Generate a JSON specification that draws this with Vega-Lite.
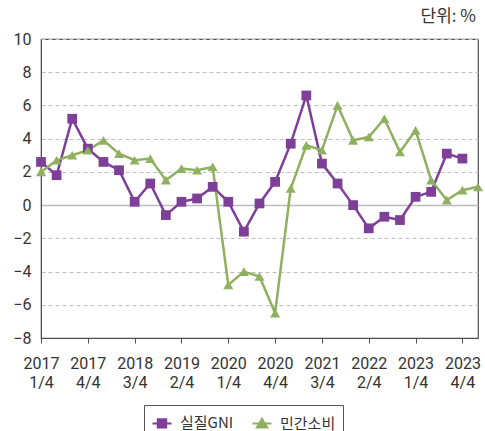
{
  "$schema": "https://vega.github.io/schema/vega-lite/v6.json",
  "width": 437,
  "height": 299,
  "autosize": "none",
  "padding": {"left": 41, "top": 39, "right": 7, "bottom": 93},
  "background": "white",
  "config": {
    "view": {"stroke": "#4d4d4d", "strokeWidth": 1.2},
    "font": "Roboto"
  },
  "title": {
    "text": "단위: %",
    "anchor": "end",
    "orient": "top",
    "offset": 0,
    "dy": 12,
    "dx": -7,
    "baseline": "bottom",
    "fontSize": 17,
    "font": "Noto Sans CJK KR",
    "fontWeight": "normal",
    "color": "#333333"
  },
  "data": {
    "values": [
      {"q": "2017 1/4", "series": "실질GNI", "v": 2.6},
      {"q": "2017 2/4", "series": "실질GNI", "v": 1.8},
      {"q": "2017 3/4", "series": "실질GNI", "v": 5.2},
      {"q": "2017 4/4", "series": "실질GNI", "v": 3.4},
      {"q": "2018 1/4", "series": "실질GNI", "v": 2.6},
      {"q": "2018 2/4", "series": "실질GNI", "v": 2.1},
      {"q": "2018 3/4", "series": "실질GNI", "v": 0.2},
      {"q": "2018 4/4", "series": "실질GNI", "v": 1.3},
      {"q": "2019 1/4", "series": "실질GNI", "v": -0.6},
      {"q": "2019 2/4", "series": "실질GNI", "v": 0.2},
      {"q": "2019 3/4", "series": "실질GNI", "v": 0.4},
      {"q": "2019 4/4", "series": "실질GNI", "v": 1.1},
      {"q": "2020 1/4", "series": "실질GNI", "v": 0.2},
      {"q": "2020 2/4", "series": "실질GNI", "v": -1.6},
      {"q": "2020 3/4", "series": "실질GNI", "v": 0.1},
      {"q": "2020 4/4", "series": "실질GNI", "v": 1.4},
      {"q": "2021 1/4", "series": "실질GNI", "v": 3.7},
      {"q": "2021 2/4", "series": "실질GNI", "v": 6.6},
      {"q": "2021 3/4", "series": "실질GNI", "v": 2.5},
      {"q": "2021 4/4", "series": "실질GNI", "v": 1.3},
      {"q": "2022 1/4", "series": "실질GNI", "v": 0.0},
      {"q": "2022 2/4", "series": "실질GNI", "v": -1.4},
      {"q": "2022 3/4", "series": "실질GNI", "v": -0.7},
      {"q": "2022 4/4", "series": "실질GNI", "v": -0.9},
      {"q": "2023 1/4", "series": "실질GNI", "v": 0.5},
      {"q": "2023 2/4", "series": "실질GNI", "v": 0.8},
      {"q": "2023 3/4", "series": "실질GNI", "v": 3.1},
      {"q": "2023 4/4", "series": "실질GNI", "v": 2.8},
      {"q": "2017 1/4", "series": "민간소비", "v": 2.0},
      {"q": "2017 2/4", "series": "민간소비", "v": 2.7},
      {"q": "2017 3/4", "series": "민간소비", "v": 3.0},
      {"q": "2017 4/4", "series": "민간소비", "v": 3.3},
      {"q": "2018 1/4", "series": "민간소비", "v": 3.9},
      {"q": "2018 2/4", "series": "민간소비", "v": 3.1},
      {"q": "2018 3/4", "series": "민간소비", "v": 2.7},
      {"q": "2018 4/4", "series": "민간소비", "v": 2.8},
      {"q": "2019 1/4", "series": "민간소비", "v": 1.5},
      {"q": "2019 2/4", "series": "민간소비", "v": 2.2},
      {"q": "2019 3/4", "series": "민간소비", "v": 2.1},
      {"q": "2019 4/4", "series": "민간소비", "v": 2.3},
      {"q": "2020 1/4", "series": "민간소비", "v": -4.8},
      {"q": "2020 2/4", "series": "민간소비", "v": -4.0},
      {"q": "2020 3/4", "series": "민간소비", "v": -4.3},
      {"q": "2020 4/4", "series": "민간소비", "v": -6.5},
      {"q": "2021 1/4", "series": "민간소비", "v": 1.0},
      {"q": "2021 2/4", "series": "민간소비", "v": 3.6},
      {"q": "2021 3/4", "series": "민간소비", "v": 3.3},
      {"q": "2021 4/4", "series": "민간소비", "v": 6.0},
      {"q": "2022 1/4", "series": "민간소비", "v": 3.9},
      {"q": "2022 2/4", "series": "민간소비", "v": 4.1},
      {"q": "2022 3/4", "series": "민간소비", "v": 5.2},
      {"q": "2022 4/4", "series": "민간소비", "v": 3.2},
      {"q": "2023 1/4", "series": "민간소비", "v": 4.5},
      {"q": "2023 2/4", "series": "민간소비", "v": 1.5},
      {"q": "2023 3/4", "series": "민간소비", "v": 0.3},
      {"q": "2023 4/4", "series": "민간소비", "v": 0.9},
      {"q": "2024 1/4", "series": "민간소비", "v": 1.1}
    ]
  },
  "encoding": {
    "x": {
      "field": "q",
      "type": "ordinal",
      "scale": {"type": "point", "padding": 0},
      "axis": {
        "title": null,
        "values": ["2017 1/4", "2017 4/4", "2018 3/4", "2019 2/4", "2020 1/4", "2020 4/4", "2021 3/4", "2022 2/4", "2023 1/4", "2023 4/4"],
        "labelExpr": "split(datum.label, ' ')",
        "labelAngle": 0,
        "labelFontSize": 16,
        "labelColor": "#333333",
        "labelLineHeight": 19,
        "labelPadding": 12,
        "tickSize": 5,
        "tickColor": "#4d4d4d",
        "domainColor": "#4d4d4d",
        "grid": false
      }
    },
    "y": {
      "field": "v",
      "type": "quantitative",
      "scale": {"domain": [-8, 10], "nice": false, "zero": false},
      "axis": {
        "title": null,
        "values": [-8, -6, -4, -2, 0, 2, 4, 6, 8, 10],
        "labelFontSize": 16,
        "labelColor": "#333333",
        "labelPadding": 10,
        "ticks": false,
        "domainColor": "#4d4d4d",
        "grid": true,
        "gridColor": {"condition": {"test": "datum.value === 0", "value": "#bbbbbb"}, "value": "#bdbdbd"},
        "gridDash": {"condition": {"test": "datum.value === 0", "value": []}, "value": [4, 3]},
        "gridWidth": {"condition": {"test": "datum.value === 0", "value": 1.5}, "value": 1}
      }
    },
    "color": {
      "field": "series",
      "type": "nominal",
      "scale": {"domain": ["실질GNI", "민간소비"], "range": ["#7d3f98", "#8fb05f"]},
      "legend": {
        "title": null,
        "orient": "none",
        "legendX": 103,
        "legendY": 366,
        "direction": "horizontal",
        "strokeColor": "#555555",
        "padding": 7,
        "labelFont": "Noto Sans CJK KR",
        "labelFontSize": 15,
        "labelColor": "#333333",
        "labelLimit": 200,
        "labelOffset": 7,
        "symbolSize": 400,
        "symbolStrokeWidth": 2,
        "columnPadding": 14,
        "encode": {
          "symbols": {
            "update": {
              "shape": {"signal": "datum.value === '실질GNI' ? 'M-0.95,0H0.95M-0.42,-0.42H0.42V0.42H-0.42Z' : 'M-0.95,0H0.95M0,-0.48L0.52,0.4H-0.52Z'"},
              "fill": {"signal": "scale('color', datum.value)"},
              "stroke": {"signal": "scale('color', datum.value)"},
              "strokeWidth": {"value": 2},
              "opacity": {"value": 1}
            }
          }
        }
      }
    }
  },
  "layer": [
    {"mark": {"type": "line", "strokeWidth": 2.5}},
    {
      "transform": [{"filter": "datum.series === '실질GNI'"}],
      "mark": {"type": "point", "filled": true, "opacity": 1, "size": 95, "shape": "square"}
    },
    {
      "transform": [{"filter": "datum.series === '민간소비'"}],
      "mark": {"type": "point", "filled": true, "opacity": 1, "size": 100, "shape": "triangle-up"}
    }
  ]
}
